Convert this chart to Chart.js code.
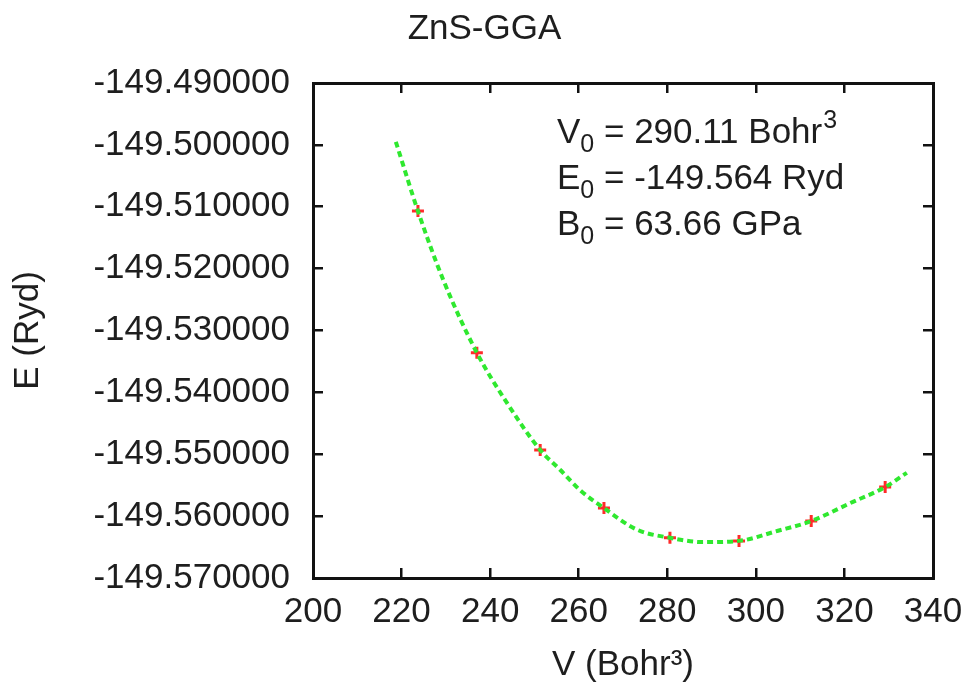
<!DOCTYPE html>
<html><head><meta charset="utf-8">
<script src="https://cdn.jsdelivr.net/npm/chart.js@4.4.1/dist/chart.umd.min.js"></script>
<style>html,body{margin:0;padding:0;background:#fff;}</style>
</head><body><canvas id="c" width="969" height="686"></canvas>
<script>
const titleText = 'ZnS-GGA';
const xTitle = 'V (Bohr³)';
const yTitle = 'E (Ryd)';
const xTicks = [200, 220, 240, 260, 280, 300, 320, 340];
const yTicks = [-149.57, -149.56, -149.55, -149.54, -149.53, -149.52, -149.51, -149.50, -149.49];
const dataV = [223.7, 237.0, 251.3, 265.7, 280.6, 296.2, 312.5, 329.2];
const dataE = [-149.5107, -149.5336, -149.5493, -149.5587, -149.5635, -149.5640, -149.5608, -149.5553];
const fitV = [218.7, 223.7, 229.4, 237.0, 243.8, 251.3, 255.8, 260.3, 265.7, 273.2, 280.6, 288.1, 296.2, 304.8, 312.5, 321.3, 329.2, 334.1];
const fitE = [-149.4995, -149.5107, -149.5218, -149.5336, -149.5417, -149.5493, -149.5525, -149.5558, -149.5587, -149.5622, -149.5635, -149.5642, -149.5640, -149.5624, -149.5608, -149.5579, -149.5553, -149.5530];
const annotLines = [['V', '0', ' = 290.11 Bohr', '3'], ['E', '0', ' = -149.564 Ryd', ''], ['B', '0', ' = 63.66 GPa', '']];

const FONT = "'Liberation Sans', Arial, Helvetica, sans-serif";
const TXT = '#1e1e1e';
Chart.defaults.font.family = FONT;
Chart.defaults.color = TXT;

const setTicks = arr => s => { s.ticks = arr.map(v => ({ value: v })); };
const gridOpts = { drawOnChartArea: false, drawTicks: true, tickLength: -10, lineWidth: 2.5, color: '#111' };
const borderOpts = { display: true, width: 3, color: '#111' };
const fixH = h => s => { s.height = h; s.paddingLeft = 0; s.paddingRight = 0; };
const fixW = w => s => { s.width = w; s.paddingTop = 0; s.paddingBottom = 0; };

const annotPlugin = {
  id: 'annot',
  afterDraw(chart) {
    const ctx = chart.ctx;
    const x0 = 557;
    const baselines = [143, 189, 235];
    ctx.save();
    ctx.fillStyle = TXT;
    ctx.textBaseline = 'alphabetic';
    ctx.textAlign = 'left';
    annotLines.forEach((ln, i) => {
      let x = x0, y = baselines[i];
      ctx.font = '35px ' + FONT;
      ctx.fillText(ln[0], x, y); x += ctx.measureText(ln[0]).width;
      ctx.font = '25px ' + FONT;
      ctx.fillText(ln[1], x, y + 9); x += ctx.measureText(ln[1]).width;
      ctx.font = '35px ' + FONT;
      ctx.fillText(ln[2], x, y); x += ctx.measureText(ln[2]).width;
      if (ln[3]) { ctx.font = '25px ' + FONT; ctx.fillText(ln[3], x + 1, y - 15); }
    });
    ctx.restore();
  }
};

new Chart(document.getElementById('c'), {
  type: 'line',
  data: {
    datasets: [
      {
        label: 'fit',
        data: fitV.map((v, i) => ({ x: v, y: fitE[i] })),
        borderColor: '#2fe82f',
        borderWidth: 4,
        borderDash: [6, 4],
        pointRadius: 0,
        cubicInterpolationMode: 'monotone',
        fill: false,
        order: 0
      },
      {
        label: 'data',
        data: dataV.map((v, i) => ({ x: v, y: dataE[i] })),
        showLine: false,
        pointStyle: 'cross',
        pointRadius: 6,
        pointBorderWidth: 3,
        pointBorderColor: '#ff2a2a',
        pointBackgroundColor: '#ff2a2a',
        order: 1
      }
    ]
  },
  options: {
    responsive: false,
    devicePixelRatio: 1,
    animation: false,
    layout: { padding: 0 },
    plugins: {
      legend: { display: false },
      tooltip: { enabled: false },
      title: { display: true, text: titleText, color: TXT, font: { size: 35, weight: 'normal', lineHeight: 1 }, padding: { top: 12, bottom: 0 } }
    },
    scales: {
      x: {
        type: 'linear', position: 'bottom', min: 200, max: 340,
        afterBuildTicks: setTicks(xTicks), afterFit: fixH(108),
        grid: gridOpts, border: borderOpts,
        ticks: { font: { size: 35, lineHeight: 1 }, padding: 27, color: TXT, maxRotation: 0, callback: v => String(v) },
        title: { display: true, text: xTitle, color: TXT, font: { size: 35, lineHeight: 1 }, padding: { top: 0, bottom: 3 } }
      },
      x2: {
        type: 'linear', position: 'top', min: 200, max: 340,
        afterBuildTicks: setTicks(xTicks), afterFit: fixH(36),
        grid: gridOpts, border: borderOpts,
        ticks: { display: false }
      },
      y: {
        type: 'linear', position: 'left', min: -149.57, max: -149.49,
        afterBuildTicks: setTicks(yTicks), afterFit: fixW(313),
        grid: gridOpts, border: borderOpts,
        ticks: { font: { size: 35, lineHeight: 1 }, padding: 33, color: TXT, callback: v => Number(v).toFixed(6) },
        title: { display: true, text: yTitle, color: TXT, font: { size: 35, lineHeight: 1 }, padding: { top: 11, bottom: 0 } }
      },
      y2: {
        type: 'linear', position: 'right', min: -149.57, max: -149.49,
        afterBuildTicks: setTicks(yTicks), afterFit: fixW(36),
        grid: gridOpts, border: borderOpts,
        ticks: { display: false }
      }
    }
  },
  plugins: [annotPlugin]
});
</script>
</body></html>
